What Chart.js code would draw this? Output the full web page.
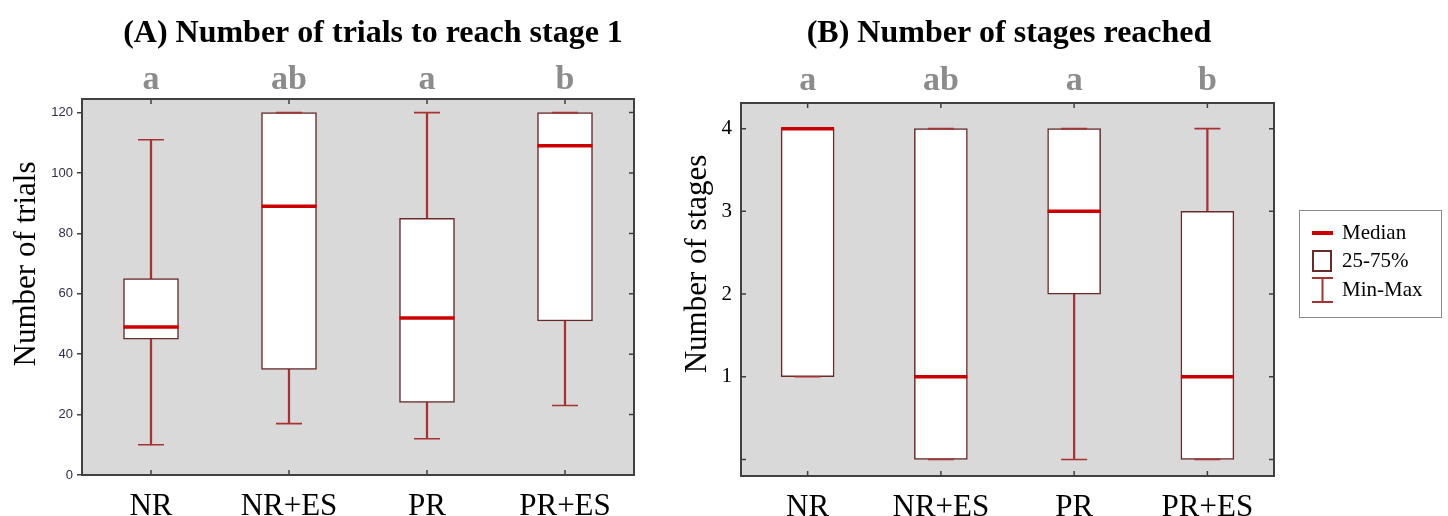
<!DOCTYPE html>
<html>
<head>
<meta charset="utf-8">
<script src="https://cdn.jsdelivr.net/npm/chart.js@4.4.1/dist/chart.umd.min.js"></script>
<style>
  html, body { margin: 0; padding: 0; background: #fff; }
  #wrap { position: relative; width: 1448px; height: 516px; }
  .panel { position: absolute; top: 0; height: 516px; }
  #panelA { left: 0; width: 665px; }
  #panelB { left: 665px; width: 783px; }
</style>
</head>
<body>
<div id="wrap">
  <div class="panel" id="panelA"><canvas id="chartA" width="665" height="516"></canvas></div>
  <div class="panel" id="panelB"><canvas id="chartB" width="783" height="516"></canvas></div>
</div>
<script>
// ── data ──
var groups = ['NR', 'NR+ES', 'PR', 'PR+ES'];
var lettersA = ['a', 'ab', 'a', 'b'];
var lettersB = ['a', 'ab', 'a', 'b'];

// (A) trials to reach stage 1
var trialsMin = [10, 17, 12, 23];
var trialsQ1 = [45, 35, 24, 51];
var trialsMedian = [49, 89, 52, 109];
var trialsQ3 = [65, 120, 85, 120];
var trialsMax = [111, 120, 120, 120];

// (B) stages reached
var stagesMin = [1, 0, 0, 0];
var stagesQ1 = [1, 0, 2, 0];
var stagesMedian = [4, 1, 3, 1];
var stagesQ3 = [4, 4, 4, 3];
var stagesMax = [4, 4, 4, 4];

var legendItems = ['Median', '25-75%', 'Min-Max'];

var SERIF = '"Liberation Serif", "Times New Roman", serif';
var BOX_EDGE = '#6a2a2a';
var WHISKER = '#a83232';
var MEDIAN = '#cc0000';
var FRAME = '#404040';

function pairs(a, b) {
    return a.map(function(v, i) { return [v, b[i]]; });
}

// background, frame, inward ticks, titles and legend
var panelDeco = {
    id: 'panelDeco',
    beforeDatasetsDraw: function(chart) {
        var a = chart.chartArea, ctx = chart.ctx;
        ctx.save();
        ctx.fillStyle = '#d9d9d9';
        ctx.fillRect(a.left, a.top, a.right - a.left, a.bottom - a.top);
        ctx.restore();
    },
    afterDraw: function(chart, args, opts) {
        var a = chart.chartArea, ctx = chart.ctx;
        var x = chart.scales.x, y = chart.scales.y;
        ctx.save();
        ctx.strokeStyle = FRAME;
        ctx.lineWidth = 1.5;
        ctx.beginPath();
        x.ticks.forEach(function(t, i) {
            var px = x.getPixelForTick(i);
            ctx.moveTo(px, a.bottom); ctx.lineTo(px, a.bottom - 5);
            ctx.moveTo(px, a.top); ctx.lineTo(px, a.top + 5);
        });
        y.ticks.forEach(function(t, i) {
            var py = y.getPixelForTick(i);
            ctx.moveTo(a.right, py); ctx.lineTo(a.right - 5, py);
            if (opts.inwardLeft) { ctx.moveTo(a.left, py); ctx.lineTo(a.left + 5, py); }
        });
        ctx.stroke();
        ctx.lineWidth = 2;
        ctx.strokeRect(a.left, a.top, a.right - a.left, a.bottom - a.top);

        // panel title
        ctx.fillStyle = '#000';
        ctx.font = 'bold 32px ' + SERIF;
        ctx.textAlign = 'center';
        ctx.textBaseline = 'alphabetic';
        ctx.fillText(opts.title, opts.titleX, 42);

        // y axis title
        ctx.save();
        ctx.translate(opts.yTitleX, 264);
        ctx.rotate(-Math.PI / 2);
        ctx.font = '31px ' + SERIF;
        ctx.fillText(opts.yTitle, 0, 0);
        ctx.restore();

        if (opts.legend) {
            var lx = 634, ly = 210;
            ctx.strokeStyle = '#8a8a8a';
            ctx.lineWidth = 1;
            ctx.strokeRect(lx + 0.5, ly + 0.5, 142, 107);
            ctx.strokeStyle = MEDIAN; ctx.lineWidth = 4;
            ctx.beginPath(); ctx.moveTo(lx + 13, ly + 23); ctx.lineTo(lx + 34, ly + 23); ctx.stroke();
            ctx.strokeStyle = BOX_EDGE; ctx.lineWidth = 2;
            ctx.strokeRect(lx + 14, ly + 41, 18, 20);
            ctx.strokeStyle = WHISKER; ctx.lineWidth = 2;
            ctx.beginPath();
            ctx.moveTo(lx + 13, ly + 68); ctx.lineTo(lx + 34, ly + 68);
            ctx.moveTo(lx + 23.5, ly + 68); ctx.lineTo(lx + 23.5, ly + 92);
            ctx.moveTo(lx + 13, ly + 92); ctx.lineTo(lx + 34, ly + 92);
            ctx.stroke();
            ctx.fillStyle = '#000';
            ctx.font = '21px ' + SERIF;
            ctx.textAlign = 'left';
            ctx.textBaseline = 'middle';
            ctx.fillText(legendItems[0], lx + 43, ly + 23);
            ctx.fillText(legendItems[1], lx + 43, ly + 51);
            ctx.fillText(legendItems[2], lx + 43, ly + 80);
        }
        ctx.restore();
    }
};

function boxChart(canvasId, cfg) {
    var ds = [
        { type: 'bar', data: pairs(cfg.min, cfg.max), backgroundColor: WHISKER, borderWidth: 0, barThickness: 1.6, grouped: false, order: 4 },
        { type: 'bar', data: pairs(cfg.q1, cfg.q3), backgroundColor: '#ffffff', borderColor: BOX_EDGE, borderWidth: 1.5, borderSkipped: false, barThickness: cfg.boxWidth, grouped: false, order: 3 },
        { type: 'line', data: cfg.min, showLine: false, pointStyle: 'line', pointRadius: 13, pointBorderWidth: 1.6, pointBorderColor: WHISKER, order: 2 },
        { type: 'line', data: cfg.max, showLine: false, pointStyle: 'line', pointRadius: 13, pointBorderWidth: 1.6, pointBorderColor: WHISKER, order: 2 },
        { type: 'line', data: cfg.median, showLine: false, pointStyle: 'line', pointRadius: cfg.boxWidth / 2, pointBorderWidth: 3.5, pointBorderColor: MEDIAN, order: 1 }
    ];
    return new Chart(document.getElementById(canvasId).getContext('2d'), {
        type: 'bar',
        data: { labels: groups, datasets: ds },
        plugins: [panelDeco],
        options: {
            responsive: false, animation: false,
            layout: { padding: { left: 0, top: 0, right: cfg.padRight, bottom: 0 } },
            plugins: {
                legend: { display: false },
                tooltip: { enabled: false },
                panelDeco: { title: cfg.title, titleX: cfg.titleX, yTitle: cfg.yTitle, yTitleX: cfg.yTitleX, inwardLeft: cfg.inwardLeft, legend: cfg.legend }
            },
            scales: {
                x: {
                    type: 'category', offset: true,
                    grid: { display: false }, border: { display: false },
                    ticks: { color: '#000', padding: 5, font: { family: SERIF, size: 31 } },
                    afterFit: function(s) { s.height = cfg.bottomH; }
                },
                x2: {
                    type: 'category', position: 'top', offset: true, labels: cfg.letters,
                    grid: { display: false }, border: { display: false },
                    ticks: { color: '#8c8c8c', padding: cfg.letterPad, font: { family: SERIF, size: 34, weight: 'bold' } },
                    afterFit: function(s) { s.height = cfg.topH; }
                },
                y: {
                    min: cfg.yMin, max: cfg.yMax,
                    border: { display: false },
                    grid: { display: !cfg.inwardLeft, drawOnChartArea: false, drawTicks: true, tickLength: 5, color: FRAME, lineWidth: 1.5 },
                    ticks: {
                        stepSize: cfg.step, includeBounds: false, padding: cfg.tickPad, color: cfg.tickColor,
                        font: cfg.tickFont,
                        callback: cfg.tickLabel
                    },
                    afterFit: function(s) { s.width = cfg.leftW; }
                }
            }
        }
    });
}

boxChart('chartA', {
    min: trialsMin, q1: trialsQ1, median: trialsMedian, q3: trialsQ3, max: trialsMax,
    letters: lettersA, boxWidth: 55, letterPad: -10,
    yMin: 0, yMax: 124.5, step: 20,
    tickColor: '#2e2e48', tickPad: 4,
    tickFont: { family: '"Liberation Sans", Arial, sans-serif', size: 13 },
    tickLabel: function(v) { return v; },
    yTitle: 'Number of trials', yTitleX: 35,
    title: '(A) Number of trials to reach stage 1', titleX: 373,
    leftW: 82, topH: 99, bottomH: 41, padRight: 31,
    inwardLeft: false, legend: false
});

boxChart('chartB', {
    min: stagesMin, q1: stagesQ1, median: stagesMedian, q3: stagesQ3, max: stagesMax,
    letters: lettersB, boxWidth: 53, letterPad: -7,
    yMin: -0.2, yMax: 4.31, step: 1,
    tickColor: '#000', tickPad: 4,
    tickFont: { family: SERIF, size: 21 },
    tickLabel: function(v) { return v === 0 ? '' : v; },
    yTitle: 'Number of stages', yTitleX: 41,
    title: '(B) Number of stages reached', titleX: 344,
    leftW: 76, topH: 103, bottomH: 40, padRight: 174,
    inwardLeft: true, legend: true
});
</script>
</body>
</html>
